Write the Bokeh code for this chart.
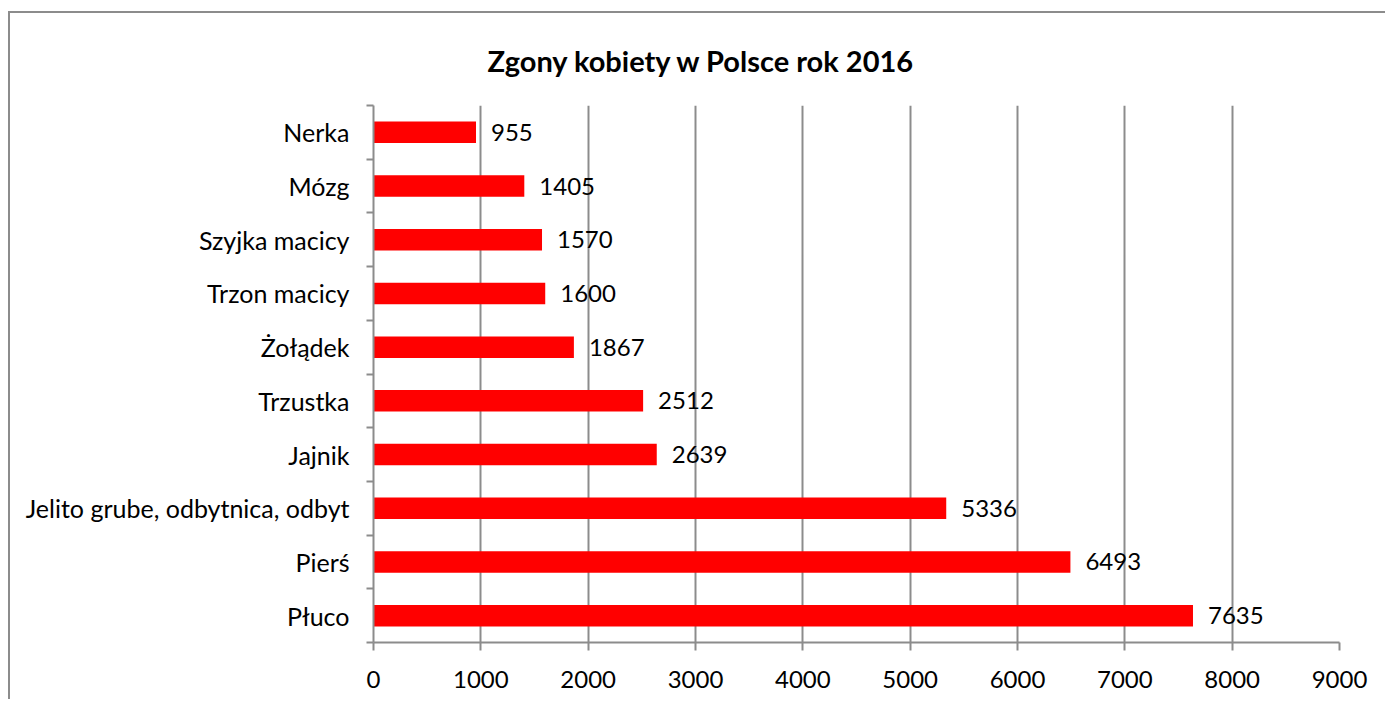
from bokeh.plotting import figure
from bokeh.models import Range1d, LinearAxis, FixedTicker, Title
from bokeh.core.properties import value
from bokeh.embed import file_html
from bokeh.resources import INLINE

categories = ["Płuco", "Pierś", "Jelito grube, odbytnica, odbyt", "Jajnik", "Trzustka",
              "Żołądek", "Trzon macicy", "Szyjka macicy", "Mózg", "Nerka"]
deaths = [7635, 6493, 5336, 2639, 2512, 1867, 1600, 1570, 1405, 955]
x_ticks = [0, 1000, 2000, 3000, 4000, 5000, 6000, 7000, 8000, 9000]
title_text = "Zgony kobiety w Polsce rok 2016"

FONT = "Lato"
GRAY = "#8c8c8c"

n = len(categories)
y_pos = [i + 0.5 for i in range(n)]  # category slot centres

p = figure(width=1377, height=688, y_range=Range1d(0, n), x_range=Range1d(0, 9000),
           output_backend="svg", toolbar_location=None, y_axis_location=None,
           x_axis_location=None,
           min_border_left=363, min_border_right=48, min_border_top=91, min_border_bottom=59)
p.outline_line_color = None
p.background_fill_color = "white"
p.border_fill_color = "white"
p.styles = {"border-left": "2px solid #8c8c8c", "border-top": "2px solid #8c8c8c",
            "margin-left": "8px", "margin-top": "11px"}

# bars
p.hbar(y=y_pos, right=deaths, left=0, height=0.4, color="#ff0000", line_color=None)
p.text(x=deaths, y=y_pos, text=[str(d) for d in deaths], x_offset=15,
       text_baseline="middle", text_align="left", text_font=value(FONT),
       text_font_size="24px", text_color="black")

# x axis
xa = LinearAxis(ticker=FixedTicker(ticks=x_ticks))
xa.axis_line_color = GRAY
xa.axis_line_width = 2
xa.major_tick_line_color = GRAY
xa.major_tick_line_width = 2
xa.major_tick_out = 8
xa.major_tick_in = 0
xa.minor_tick_line_color = None
xa.major_label_text_font = FONT
xa.major_label_text_font_size = "24px"
xa.major_label_text_color = "black"
xa.major_label_standoff = 20
p.add_layout(xa, "below")

# y axis: boundary ticks
ya_t = LinearAxis(ticker=FixedTicker(ticks=list(range(n + 1))))
ya_t.axis_line_color = GRAY
ya_t.axis_line_width = 2
ya_t.major_tick_line_color = GRAY
ya_t.major_tick_line_width = 2
ya_t.major_tick_out = 7
ya_t.major_tick_in = 0
ya_t.minor_tick_line_color = None
ya_t.major_label_overrides = {i: "" for i in range(n + 1)}
ya_t.major_label_standoff = 0
ya_t.major_label_text_font_size = "1px"
p.add_layout(ya_t, "left")

# y axis: category labels
ya = LinearAxis(ticker=FixedTicker(ticks=y_pos))
ya.major_label_overrides = {y: c for y, c in zip(y_pos, categories)}
ya.axis_line_color = None
ya.major_tick_line_color = None
ya.minor_tick_line_color = None
ya.major_label_text_font = FONT
ya.major_label_text_font_size = "25px"
ya.major_label_text_color = "black"
ya.major_label_standoff = 11
p.add_layout(ya, "left")

p.xgrid.grid_line_color = GRAY
p.xgrid.grid_line_width = 2
p.xgrid.ticker = FixedTicker(ticks=x_ticks)
p.ygrid.grid_line_color = None

p.title = Title(text=title_text, align="left", offset=114,
                text_font=FONT, text_font_size="29px", text_font_style="bold",
                text_color="black", standoff=55)

open("out.html", "w").write(file_html(p, INLINE))
